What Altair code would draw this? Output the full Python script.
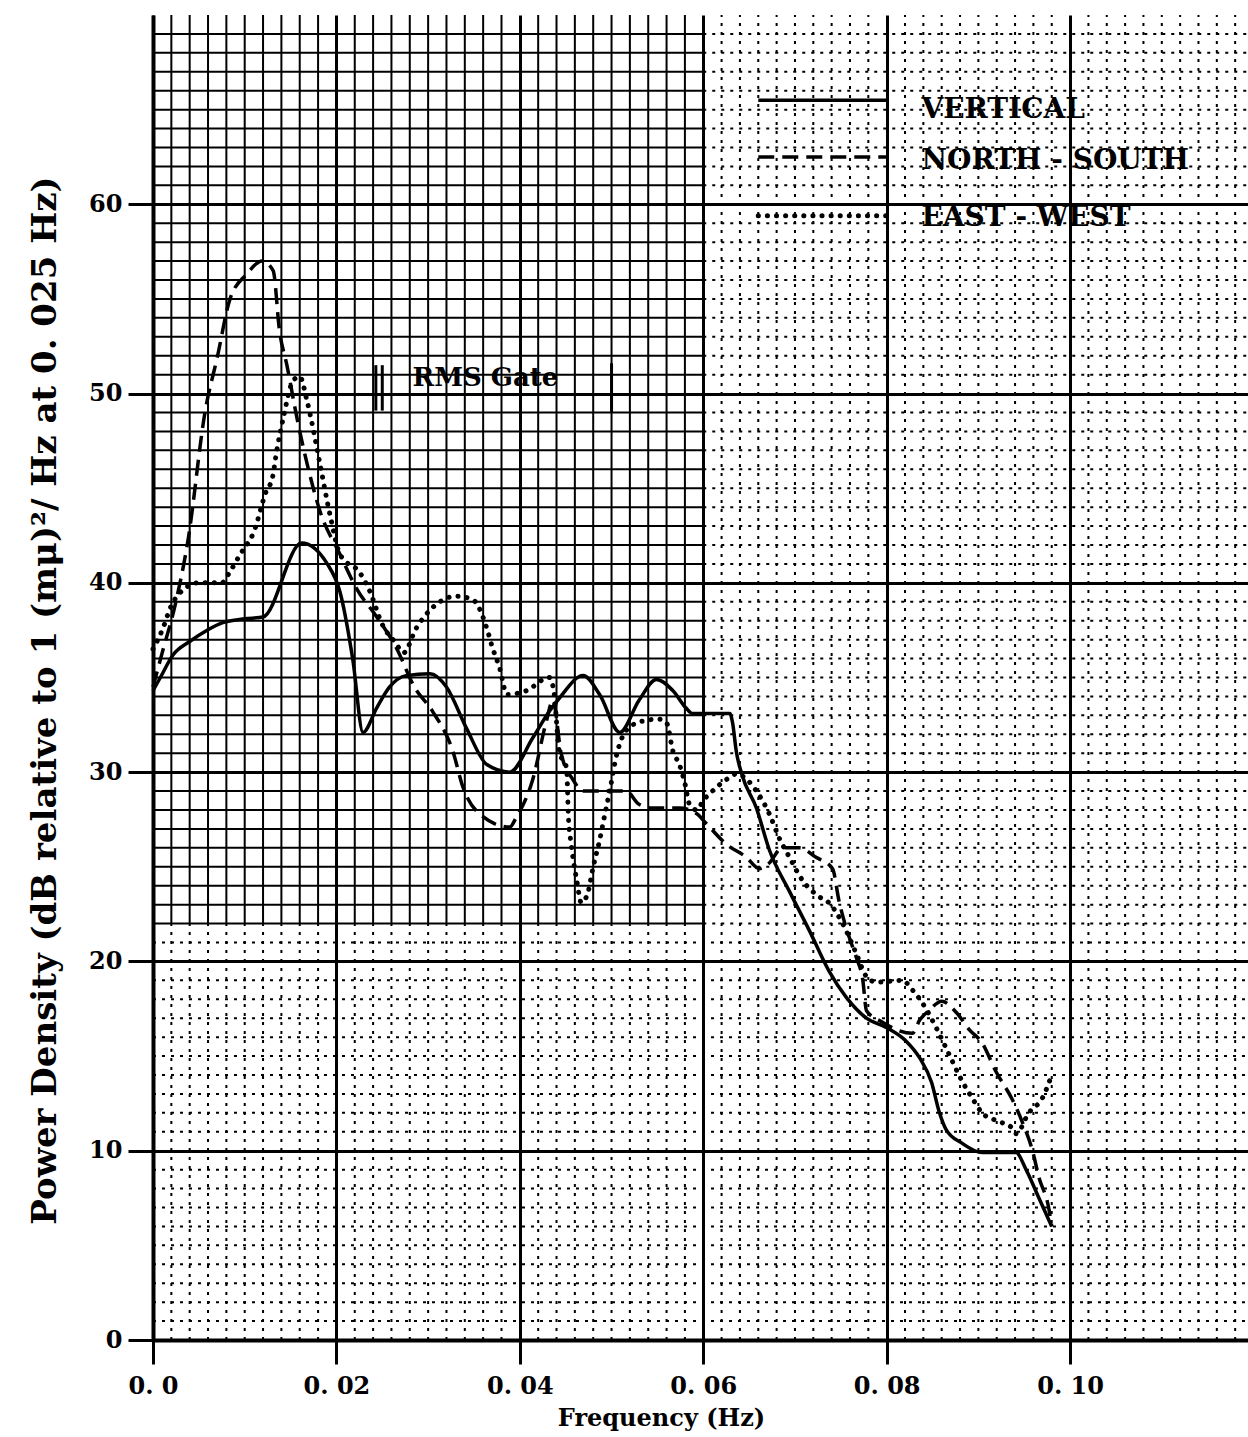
import altair as alt
import pandas as pd

# ---------------- data ----------------
vert_f = [0.0, 0.0008, 0.0022, 0.004, 0.0059, 0.0076, 0.010, 0.012, 0.0162, 0.019, 0.0204,
          0.0218, 0.0229, 0.0244, 0.0258, 0.0276, 0.0302, 0.032, 0.0342, 0.0364, 0.0389,
          0.0414, 0.0432, 0.0443, 0.0469, 0.0487, 0.0509, 0.053, 0.0549, 0.0567, 0.0581,
          0.0588, 0.0629, 0.0632, 0.0636, 0.0642, 0.0658, 0.0672, 0.0694, 0.0716, 0.0737,
          0.0756, 0.0778, 0.080, 0.0821, 0.0836, 0.0849, 0.0857, 0.0865, 0.0882, 0.0904,
          0.0941, 0.0952, 0.0966, 0.098]
vert_p = [34.3, 35.0, 36.2, 36.9, 37.5, 37.9, 38.1, 38.2, 42.1, 41.0, 39.5,
          35.9, 32.1, 33.4, 34.5, 35.1, 35.2, 34.5, 32.3, 30.4, 30.0,
          31.8, 33.2, 33.9, 35.1, 34.1, 32.1, 33.8, 34.9, 34.3, 33.4,
          33.1, 33.1, 32.6, 31.1, 29.9, 28.1, 25.9, 23.7, 21.6, 19.5,
          18.1, 17.0, 16.5, 15.8, 14.9, 13.6, 12.1, 11.1, 10.4, 9.9,
          9.9, 9.0, 7.5, 6.0]

ns_f = [0.0, 0.001, 0.0024, 0.0038, 0.0057, 0.007, 0.0084, 0.0102, 0.0119, 0.0131, 0.0138,
        0.0146, 0.0157, 0.0168, 0.0182, 0.0204, 0.0222, 0.0244, 0.0265, 0.0285, 0.0305,
        0.0327, 0.0338, 0.0356, 0.0389, 0.0396, 0.0414, 0.0429, 0.0436, 0.0445, 0.0458,
        0.0469, 0.0516, 0.053, 0.0545, 0.0574, 0.0593, 0.0603, 0.0625, 0.0647, 0.0661,
        0.0672, 0.0686, 0.0705, 0.0723, 0.0741, 0.0748, 0.0759, 0.0767, 0.0774, 0.0778,
        0.0795, 0.0828, 0.0836, 0.0846, 0.086, 0.0876, 0.089, 0.0904, 0.0919, 0.0937,
        0.0948, 0.0959, 0.0966, 0.0977, 0.098]
ns_p = [34.5, 36.3, 38.8, 42.2, 49.1, 51.9, 55.0, 56.3, 57.0, 56.5, 53.3,
        51.5, 48.7, 46.3, 43.8, 41.5, 39.7, 38.2, 36.6, 34.5, 33.2,
        31.1, 29.2, 27.8, 27.1, 27.6, 29.6, 32.7, 33.8, 31.0, 29.6,
        29.0, 29.0, 28.3, 28.1, 28.1, 27.8, 27.3, 26.2, 25.5, 24.9,
        25.2, 26.0, 26.0, 25.5, 24.9, 23.2, 21.3, 20.2, 19.0, 17.4,
        16.8, 16.2, 16.9, 17.4, 17.9, 17.3, 16.4, 15.7, 14.2, 12.7,
        11.5, 10.0, 8.6, 6.9, 6.0]

ew_f = [0.0, 0.001, 0.002, 0.0032, 0.005, 0.0075, 0.0084, 0.0095, 0.011, 0.0124, 0.013,
        0.0135, 0.0142, 0.0153, 0.016, 0.0168, 0.0182, 0.0193, 0.0204, 0.0226, 0.0236,
        0.025, 0.0265, 0.0273, 0.0287, 0.0305, 0.0331, 0.0349, 0.0364, 0.037, 0.0378,
        0.0386, 0.0407, 0.0432, 0.0437, 0.0443, 0.0451, 0.0453, 0.0456, 0.0462, 0.0467,
        0.0474, 0.048, 0.0487, 0.0492, 0.0498, 0.0505, 0.0516, 0.0534, 0.0552, 0.056,
        0.0567, 0.0574, 0.058, 0.0585, 0.0593, 0.060, 0.061, 0.0625, 0.0636, 0.0658,
        0.0672, 0.0683, 0.0694, 0.0708, 0.0727, 0.0737, 0.0752, 0.0767, 0.0778, 0.0789,
        0.0817, 0.0828, 0.0839, 0.0854, 0.0868, 0.0882, 0.0893, 0.0904, 0.0919, 0.0937,
        0.0941, 0.0955, 0.097, 0.098]
ew_p = [36.5, 37.5, 38.8, 39.6, 40.0, 40.0, 40.6, 41.5, 42.7, 44.9, 45.5,
        47.0, 48.7, 50.7, 50.9, 49.6, 46.3, 43.6, 41.5, 40.5, 39.6,
        37.8, 36.8, 36.3, 37.6, 38.7, 39.3, 39.1, 37.6, 36.6, 35.5,
        34.1, 34.3, 35.0, 34.3, 31.1, 30.2, 27.6, 26.2, 24.3, 23.1,
        23.6, 25.0, 26.4, 27.6, 29.0, 30.8, 32.2, 32.7, 32.8, 32.6,
        31.1, 30.4, 29.4, 28.3, 28.0, 28.5, 29.0, 29.6, 29.9, 29.0,
        27.8, 26.5, 25.5, 24.3, 23.4, 23.1, 22.0, 20.4, 19.2, 18.9,
        19.0, 18.5, 17.8, 16.5, 15.1, 13.7, 12.8, 12.0, 11.6, 11.2,
        10.9, 12.0, 12.8, 14.0]

legend_labels = ["VERTICAL", "NORTH - SOUTH", "EAST - WEST"]
legend_y = [65.5, 62.5, 59.4]
legend_text_y = [65.0, 62.3, 59.3]

x_ticks = [0.0, 0.02, 0.04, 0.06, 0.08, 0.10]
y_ticks = [0, 10, 20, 30, 40, 50, 60]

X_MAX = 0.1194
Y_MAX = 70
FONT = "DejaVu Serif"

# ---------------- scales & axes ----------------
xs = alt.Scale(domain=[0, X_MAX], nice=False, zero=False)
ys = alt.Scale(domain=[0, Y_MAX], nice=False, zero=False)

X_AX = alt.Axis(
    values=x_ticks,
    labelExpr="datum.value == 0 ? '0. 0' : replace(format(datum.value, '.2f'), '.', '. ')",
    labelFont=FONT, labelFontWeight="bold", labelFontSize=24, labelColor="black",
    labelPadding=10, labelFlush=False,
    tickSize=24, tickWidth=3, tickColor="black",
    domainWidth=4, domainColor="black",
    grid=True, gridColor="black", gridWidth=3,
    title="Frequency (Hz)", titleFont=FONT, titleFontWeight="bold", titleFontSize=24,
    titleColor="black", titleX=508, titleY=78, titleAlign="center", titleBaseline="middle",
)
Y_AX = alt.Axis(
    values=y_ticks,
    labelFont=FONT, labelFontWeight="bold", labelFontSize=24, labelColor="black",
    labelPadding=6,
    tickSize=25, tickWidth=3, tickColor="black",
    domainWidth=4, domainColor="black",
    grid=True, gridColor="black", gridWidth=3,
    title="Power Density (dB relative to 1 (mμ)²/ Hz at 0. 025 Hz)",
    titleFont=FONT, titleFontWeight="bold", titleFontSize=34, titleColor="black",
    titleAngle=270, titleX=-108, titleY=685, titleAlign="center", titleBaseline="middle",
)

# ---------------- minor grid (graph paper) ----------------
v_solid, v_dash, h_solid, h_dash = [], [], [], []
for i in range(1, 60):
    if i % 10 == 0:
        continue
    gx = i * 0.002
    if gx < 0.0601:
        v_solid.append({"gx": gx, "gy": 22, "gy2": Y_MAX})
        v_dash.append({"gx": gx, "gy": 0, "gy2": 22})
    else:
        v_dash.append({"gx": gx, "gy": 0, "gy2": Y_MAX})
for j in range(1, Y_MAX):
    if j % 10 == 0:
        continue
    if j >= 22:
        h_solid.append({"gy": j, "gx": 0, "gx2": 0.06})
        h_dash.append({"gy": j, "gx": 0.06, "gx2": X_MAX})
    else:
        h_dash.append({"gy": j, "gx": 0, "gx2": X_MAX})


def vrules(rows, dash):
    kw = dict(color="black", strokeWidth=2)
    if dash:
        kw["strokeDash"] = [3, 6]
    return alt.Chart(pd.DataFrame(rows)).mark_rule(**kw).encode(
        x=alt.X("gx:Q", scale=xs, axis=X_AX),
        y=alt.Y("gy:Q", scale=ys, axis=Y_AX),
        y2="gy2:Q",
    )


def hrules(rows, dash):
    kw = dict(color="black", strokeWidth=2)
    if dash:
        kw["strokeDash"] = [3, 6]
    return alt.Chart(pd.DataFrame(rows)).mark_rule(**kw).encode(
        y=alt.Y("gy:Q", scale=ys, axis=Y_AX),
        x=alt.X("gx:Q", scale=xs, axis=X_AX),
        x2="gx2:Q",
    )


grid_layers = [vrules(v_solid, False), vrules(v_dash, True),
               hrules(h_solid, False), hrules(h_dash, True)]


# ---------------- curves ----------------
def curve(fs, ps, **style):
    df = pd.DataFrame({"gx": fs, "gy": ps, "i": list(range(len(fs)))})
    return alt.Chart(df).mark_line(color="black", interpolate="monotone", **style).encode(
        x=alt.X("gx:Q", scale=xs, axis=X_AX),
        y=alt.Y("gy:Q", scale=ys, axis=Y_AX),
        order="i:Q",
    )


SOLID = dict(strokeWidth=3.5)
DASHED = dict(strokeWidth=3.5, strokeDash=[16, 8])
DOTTED = dict(strokeWidth=5, strokeDash=[0.1, 9], strokeCap="round")

curves = [curve(vert_f, vert_p, **SOLID),
          curve(ns_f, ns_p, **DASHED),
          curve(ew_f, ew_p, **DOTTED)]


# ---------------- legend ----------------
def legend_rule(yv, style):
    df = pd.DataFrame({"gx": [0.066], "gx2": [0.080], "gy": [yv]})
    return alt.Chart(df).mark_rule(color="black", **style).encode(
        x=alt.X("gx:Q", scale=xs, axis=X_AX), x2="gx2:Q",
        y=alt.Y("gy:Q", scale=ys, axis=Y_AX),
    )


legend_layers = [legend_rule(legend_y[0], SOLID),
                 legend_rule(legend_y[1], DASHED),
                 legend_rule(legend_y[2], DOTTED)]
legend_text = alt.Chart(pd.DataFrame({
    "gx": [0.0838] * 3, "gy": legend_text_y, "t": legend_labels})).mark_text(
    font=FONT, fontWeight="bold", fontSize=28, align="left", baseline="middle", color="black"
).encode(x=alt.X("gx:Q", scale=xs, axis=X_AX), y=alt.Y("gy:Q", scale=ys, axis=Y_AX), text="t:N")

# ---------------- RMS gate ----------------
gate_bars = alt.Chart(pd.DataFrame({
    "gx": [0.0243, 0.0250, 0.0500], "gy": [49.1, 49.1, 49.0], "gy2": [51.5, 51.5, 51.6]})).mark_rule(
    color="black", strokeWidth=3).encode(
    x=alt.X("gx:Q", scale=xs, axis=X_AX),
    y=alt.Y("gy:Q", scale=ys, axis=Y_AX), y2="gy2:Q")
gate_text = alt.Chart(pd.DataFrame({"gx": [0.0283], "gy": [50.8], "t": ["RMS Gate"]})).mark_text(
    font=FONT, fontWeight="bold", fontSize=26, align="left", baseline="middle", color="black"
).encode(x=alt.X("gx:Q", scale=xs, axis=X_AX), y=alt.Y("gy:Q", scale=ys, axis=Y_AX), text="t:N")

chart = alt.layer(
    *grid_layers, *curves, *legend_layers, legend_text, gate_bars, gate_text
).properties(
    width=1095, height=1325,
    padding={"left": 153, "top": 15, "right": 0, "bottom": 97},
    autosize=alt.AutoSizeParams(type="none"),
    background="white",
).configure_view(stroke=None)

chart.save("out.html", embed_options={"renderer": "svg", "actions": False})
